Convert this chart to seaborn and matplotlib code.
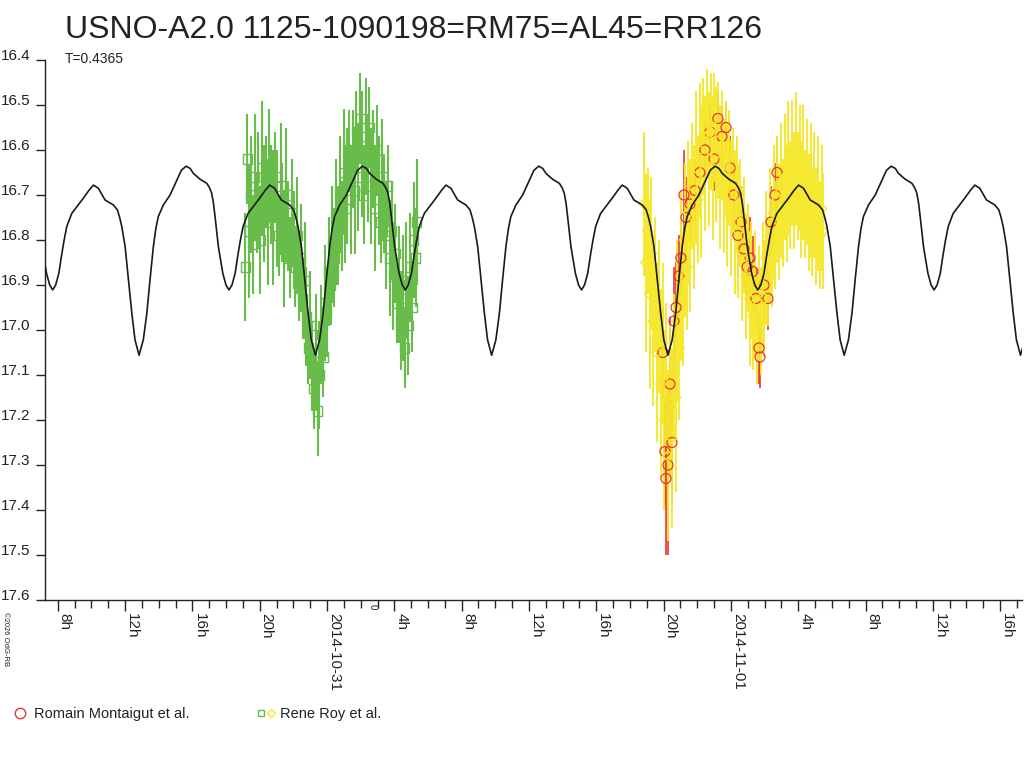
import numpy as np
import pandas as pd
import matplotlib
matplotlib.use('Agg')
import matplotlib.pyplot as plt
import matplotlib.dates as mdates
from matplotlib.lines import Line2D
from matplotlib.legend_handler import HandlerTuple
import seaborn as sns

title = 'USNO-A2.0 1125-1090198=RM75=AL45=RR126'
period_days = 0.4365
base = pd.Timestamp('2014-10-31 00:00')
epoch_min_h = -11.17          # deep minimum, hours from 2014-10-31 0h UT
xlim_h = (-16.76, 41.30)

# model light curve, one cycle (phase from deep minimum)
model_phase = [0.000, 0.024, 0.044, 0.062, 0.081, 0.095, 0.109, 0.138, 0.176, 0.214,
               0.240, 0.267, 0.290, 0.308, 0.346, 0.384, 0.400, 0.412, 0.422, 0.431,
               0.450, 0.475, 0.493, 0.510, 0.527, 0.545, 0.560, 0.575, 0.590, 0.618,
               0.647, 0.684, 0.715, 0.741, 0.769, 0.807, 0.854, 0.877, 0.890, 0.902,
               0.921, 0.940, 0.959, 0.977, 1.000]
model_mag = [17.056, 17.022, 16.963, 16.889, 16.815, 16.775, 16.748, 16.722, 16.700, 16.667,
             16.645, 16.636, 16.641, 16.652, 16.665, 16.674, 16.684, 16.696, 16.718, 16.748,
             16.815, 16.874, 16.900, 16.911, 16.900, 16.874, 16.835, 16.800, 16.770, 16.741,
             16.726, 16.707, 16.690, 16.678, 16.685, 16.711, 16.722, 16.733, 16.750, 16.770,
             16.815, 16.889, 16.963, 17.022, 17.056]

# Rene Roy et al. (green squares), hours from 2014-10-31 0h
roy1_h = [-4.85, -4.74, -4.63, -4.52, -4.41, -4.30, -4.19, -4.08, -3.97, -3.86,
          -3.75, -3.64, -3.53, -3.42, -3.31, -3.20, -3.09, -2.98, -2.87, -2.76,
          -2.65, -2.54, -2.43, -2.32, -2.21, -2.10, -1.99, -1.88, -1.77, -1.66,
          -1.55, -1.44, -1.33, -1.22, -1.11, -1.00, -0.89, -0.78, -0.67, -0.56,
          -0.45, -0.34, -0.23, -0.12, -0.01, 0.10, 0.21, 0.32, 0.43, 0.54,
          0.65, 0.76, 0.87, 0.98, 1.09, 1.20, 1.31, 1.42, 1.53, 1.64,
          1.75, 1.86, 1.97, 2.08, 2.19, 2.30, 2.41, 2.52, 2.63, 2.74,
          2.85, 2.96, 3.07, 3.18, 3.29, 3.40, 3.51, 3.62, 3.73, 3.84,
          3.95, 4.06, 4.17, 4.28, 4.39, 4.50, 4.61, 4.72, 4.83, 4.94,
          5.05, 5.16, 5.27, 5.33]
roy1_mag = [16.86, 16.62, 16.78, 16.70, 16.81, 16.66, 16.74, 16.69, 16.80, 16.64,
            16.72, 16.67, 16.76, 16.63, 16.70, 16.75, 16.66, 16.73, 16.79, 16.68,
            16.74, 16.82, 16.70, 16.77, 16.84, 16.74, 16.80, 16.86, 16.79, 16.88,
            16.84, 16.93, 16.89, 16.97, 17.04, 16.99, 17.08, 17.13, 17.05, 17.18,
            17.10, 17.01, 17.06, 16.94, 16.96, 16.87, 16.90, 16.81, 16.84, 16.76,
            16.79, 16.70, 16.77, 16.65, 16.73, 16.68, 16.60, 16.71, 16.62, 16.69,
            16.56, 16.66, 16.53, 16.61, 16.70, 16.57, 16.64, 16.55, 16.68, 16.62,
            16.73, 16.60, 16.69, 16.76, 16.66, 16.72, 16.79, 16.68, 16.84, 16.78,
            16.88, 16.83, 16.94, 16.90, 16.98, 16.93, 17.04, 16.89, 16.99, 16.86,
            16.95, 16.80, 16.84, 16.76]
roy1_err = [0.12, 0.10, 0.15, 0.13, 0.11, 0.14, 0.09, 0.13, 0.12, 0.15,
            0.13, 0.10, 0.14, 0.12, 0.11, 0.15, 0.10, 0.13, 0.09, 0.14,
            0.11, 0.13, 0.15, 0.10, 0.09, 0.12, 0.11, 0.09, 0.13, 0.10,
            0.12, 0.09, 0.13, 0.11, 0.08, 0.12, 0.10, 0.09, 0.13, 0.10,
            0.12, 0.11, 0.09, 0.13, 0.10, 0.12, 0.09, 0.13, 0.11, 0.14,
            0.11, 0.13, 0.10, 0.14, 0.12, 0.13, 0.09, 0.12, 0.11, 0.14,
            0.09, 0.12, 0.10, 0.14, 0.11, 0.13, 0.12, 0.09, 0.13, 0.11,
            0.14, 0.10, 0.12, 0.09, 0.13, 0.11, 0.12, 0.09, 0.13, 0.11,
            0.12, 0.11, 0.09, 0.13, 0.11, 0.14, 0.09, 0.13, 0.11, 0.12,
            0.10, 0.13, 0.11, 0.14]

# Rene Roy et al. (yellow diamonds)
roy2_h = [18.84, 18.95, 19.06, 19.17, 19.28, 19.39, 19.50, 19.61, 19.72, 19.83,
          19.94, 20.05, 20.16, 20.27, 20.38, 20.49, 20.60, 20.71, 20.82, 20.93,
          21.04, 21.15, 21.26, 21.37, 21.48, 21.59, 21.70, 21.81, 21.92, 22.03,
          22.14, 22.25, 22.36, 22.47, 22.58, 22.69, 22.80, 22.91, 23.02, 23.13,
          23.24, 23.35, 23.46, 23.57, 23.68, 23.79, 23.90, 24.01, 24.12, 24.23,
          24.34, 24.45, 24.56, 24.67, 24.78, 24.89, 25.00, 25.11, 25.22, 25.33,
          25.44, 25.55, 25.66, 25.77, 25.88, 25.99, 26.10, 26.21, 26.32, 26.43,
          26.54, 26.65, 26.76, 26.87, 26.98, 27.09, 27.20, 27.31, 27.42, 27.53,
          27.64, 27.75, 27.86, 27.97, 28.08, 28.19, 28.30, 28.41, 28.52, 28.63,
          28.74, 28.85, 28.96, 29.07, 29.18, 29.29, 29.40, 29.47]
roy2_mag = [16.72, 16.85, 16.78, 16.92, 16.83, 16.98, 16.90, 17.05, 16.97, 17.12,
            17.03, 17.20, 17.10, 17.28, 17.16, 17.24, 17.08, 17.15, 16.98, 17.04,
            16.88, 16.93, 16.80, 16.86, 16.74, 16.79, 16.68, 16.75, 16.64, 16.71,
            16.60, 16.67, 16.57, 16.63, 16.54, 16.62, 16.56, 16.64, 16.55, 16.61,
            16.58, 16.66, 16.59, 16.68, 16.62, 16.70, 16.64, 16.73, 16.67, 16.76,
            16.70, 16.78, 16.74, 16.83, 16.79, 16.88, 16.84, 16.93, 16.89, 16.97,
            16.92, 17.00, 16.94, 16.98, 16.90, 16.93, 16.84, 16.87, 16.79, 16.82,
            16.74, 16.79, 16.71, 16.76, 16.69, 16.74, 16.66, 16.72, 16.64, 16.70,
            16.63, 16.69, 16.62, 16.68, 16.64, 16.71, 16.65, 16.72, 16.67, 16.74,
            16.69, 16.76, 16.70, 16.77, 16.72, 16.79, 16.73, 16.78]
roy2_err = [0.16, 0.20, 0.14, 0.21, 0.17, 0.19, 0.15, 0.20, 0.17, 0.21,
            0.18, 0.20, 0.16, 0.19, 0.17, 0.20, 0.16, 0.21, 0.18, 0.16,
            0.19, 0.15, 0.17, 0.14, 0.16, 0.17, 0.14, 0.16, 0.17, 0.14,
            0.15, 0.17, 0.13, 0.15, 0.12, 0.15, 0.13, 0.16, 0.12, 0.15,
            0.13, 0.16, 0.12, 0.15, 0.13, 0.16, 0.13, 0.15, 0.12, 0.16,
            0.13, 0.15, 0.12, 0.15, 0.13, 0.14, 0.12, 0.15, 0.13, 0.12,
            0.14, 0.12, 0.13, 0.12, 0.14, 0.13, 0.15, 0.12, 0.15, 0.13,
            0.15, 0.12, 0.14, 0.13, 0.15, 0.12, 0.14, 0.13, 0.15, 0.12,
            0.14, 0.13, 0.15, 0.12, 0.14, 0.13, 0.15, 0.12, 0.14, 0.13,
            0.15, 0.12, 0.14, 0.13, 0.15, 0.12, 0.14, 0.13]

# Romain Montaigut et al. (red circles)
mont_h = [19.96, 20.08, 20.14, 20.26, 20.38, 20.50, 20.62, 20.74, 20.92, 21.03,
          21.21, 21.33, 21.57, 21.87, 22.16, 22.46, 22.76, 23.00, 23.23, 23.47,
          23.71, 23.95, 24.18, 24.42, 24.60, 24.78, 24.96, 25.13, 25.31, 25.49,
          25.67, 25.73, 25.97, 26.20, 26.38, 26.62, 26.74]
mont_mag = [17.05, 17.27, 17.33, 17.30, 17.12, 17.25, 16.98, 16.95, 16.88, 16.84,
            16.70, 16.75, 16.72, 16.69, 16.65, 16.60, 16.56, 16.62, 16.53, 16.57,
            16.55, 16.64, 16.70, 16.79, 16.76, 16.82, 16.86, 16.84, 16.87, 16.93,
            17.04, 17.06, 16.90, 16.93, 16.76, 16.70, 16.65]
mont_err = [0.10, 0.12, 0.17, 0.20, 0.15, 0.14, 0.12, 0.10, 0.09, 0.08,
            0.10, 0.09, 0.08, 0.07, 0.08, 0.07, 0.06, 0.07, 0.06, 0.07,
            0.06, 0.07, 0.08, 0.09, 0.08, 0.09, 0.08, 0.09, 0.08, 0.07,
            0.08, 0.07, 0.08, 0.07, 0.08, 0.07, 0.08]

green = '#68bd4a'
yellow = '#f5e829'
red = '#ec3434'
txt = '#222222'


def to_num(hours):
    return mdates.date2num(base + pd.to_timedelta(np.asarray(hours), unit='h'))


sns.set_style('ticks')
plt.rcParams['font.family'] = ['Liberation Sans', 'DejaVu Sans']

fig = plt.figure(figsize=(10.24, 7.68), dpi=100)
ax = fig.add_axes([45 / 1024, 1 - 600 / 768, 977 / 1024, 540 / 768])

# tile the model cycle over the plotted range
P_h = period_days * 24
mt, mm = [], []
for k in range(-2, 7):
    mt.extend(epoch_min_h + (k + np.asarray(model_phase)) * P_h)
    mm.extend(model_mag)
model = pd.DataFrame({'t': to_num(mt), 'mag': mm})

ax.errorbar(to_num(roy1_h), roy1_mag, yerr=roy1_err, fmt='none',
            ecolor=green, elinewidth=1.5, capsize=0, zorder=2)
sns.scatterplot(x=to_num(roy1_h), y=roy1_mag, marker='s', s=42, color=green,
                facecolor='none', edgecolor=green, linewidth=1, ax=ax, zorder=3)

# red error bars sit under the yellow ones
ax.errorbar(to_num(mont_h), mont_mag, yerr=mont_err, fmt='none',
            ecolor=red, elinewidth=1.2, capsize=0, zorder=1.8)
ax.errorbar(to_num(roy2_h), roy2_mag, yerr=roy2_err, fmt='none',
            ecolor=yellow, elinewidth=1.35, capsize=0, zorder=2)
sns.scatterplot(x=to_num(mont_h), y=mont_mag, marker='o', s=52, color=red,
                facecolor='none', edgecolor=red, linewidth=0.9, ax=ax, zorder=2.5)
sns.scatterplot(x=to_num(roy2_h), y=roy2_mag, marker='D', s=28, color=yellow,
                facecolor='none', edgecolor=yellow, linewidth=1, ax=ax, zorder=3)

sns.lineplot(data=model, x='t', y='mag', sort=False, estimator=None,
             color='#1a1a1a', linewidth=1.2, ax=ax, zorder=5)

ax.set_xlim(to_num(xlim_h[0]), to_num(xlim_h[1]))
ax.set_ylim(17.6, 16.4)
ax.set_xlabel('')
ax.set_ylabel('')
ax.set_yticks(np.round(np.arange(16.4, 17.61, 0.1), 1))
ax.yaxis.set_major_formatter(plt.FuncFormatter(lambda v, p: f'{v:.1f}'))

ax.xaxis.set_major_locator(mdates.HourLocator(byhour=[0, 4, 8, 12, 16, 20]))
ax.xaxis.set_minor_locator(mdates.HourLocator())


def hour_fmt(v, pos):
    d = mdates.num2date(v)
    if d.hour == 0:
        return d.strftime('%Y-%m-%d')
    return f'{d.hour}h'


ax.xaxis.set_major_formatter(plt.FuncFormatter(hour_fmt))

for s in ['top', 'right']:
    ax.spines[s].set_visible(False)
for s in ['left', 'bottom']:
    ax.spines[s].set_color(txt)
    ax.spines[s].set_linewidth(1)

ax.tick_params(axis='y', length=6.5, width=1, color=txt, labelsize=11,
               labelcolor=txt, pad=4)
ax.tick_params(axis='x', which='major', length=8, width=1, color=txt,
               labelsize=11, labelcolor=txt, pad=1.5)
ax.tick_params(axis='x', which='minor', length=5.5, width=1, color=txt)
for lab in ax.get_yticklabels():
    lab.set_va('baseline')
for lab in ax.get_xticklabels():
    lab.set_rotation(270)
    lab.set_ha('left')
    lab.set_va('top')

# small marker glyph under the axis
ax.annotate('0', xy=(to_num(2.73), 0), xycoords=('data', 'axes fraction'),
            xytext=(0, -3), textcoords='offset points', rotation=270,
            fontsize=7, color=txt, ha='center', va='top')

fig.text(65 / 1024, 1 - 38 / 768, title, fontsize=23, color=txt, va='baseline')
fig.text(65 / 1024, 1 - 63 / 768, f'T={period_days}', fontsize=10, color=txt,
         va='baseline')
fig.text(2 / 1024, 1 - 612 / 768, '\u00a92026 OdG-RB', rotation=270, fontsize=5.5,
         color=txt, ha='left', va='top')

h_mont = Line2D([], [], marker='o', ls='none', mfc='none', mec=red, ms=7.5, mew=1)
h_sq = Line2D([], [], marker='s', ls='none', mfc='none', mec=green, ms=5, mew=1)
h_di = Line2D([], [], marker='D', ls='none', mfc='none', mec=yellow, ms=4.5, mew=1)
leg = ax.legend([h_mont, (h_sq, h_di)], ['Romain Montaigut et al.', 'Rene Roy et al.'],
                handler_map={tuple: HandlerTuple(ndivide=None, pad=0.2)},
                ncol=2, loc='center left', bbox_to_anchor=(11 / 1024, 1 - 714 / 768),
                bbox_transform=fig.transFigure, frameon=False, fontsize=10.5,
                borderpad=0, borderaxespad=0, handlelength=1.2, handletextpad=0.4,
                columnspacing=4.6)
for t in leg.get_texts():
    t.set_color(txt)

fig.savefig('out.png', dpi=100)
